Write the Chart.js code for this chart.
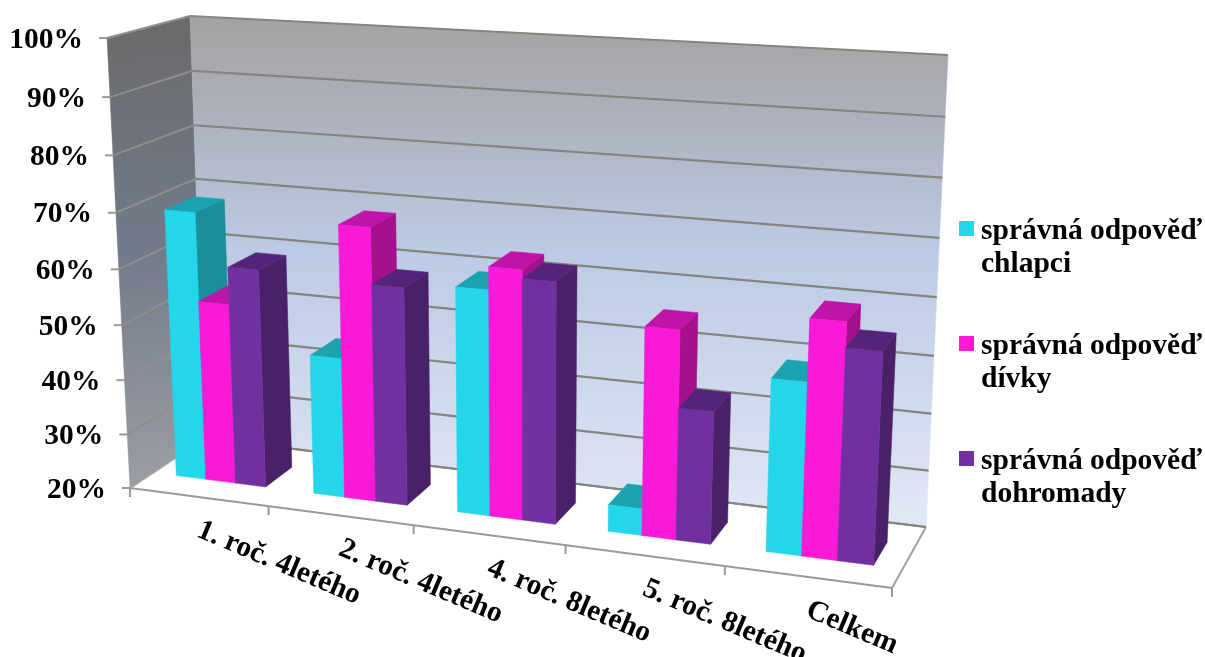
<!DOCTYPE html>
<html lang="cs">

<head>
    <meta charset="UTF-8">
    <title>Správná odpověď</title>
    <script src="https://cdn.jsdelivr.net/npm/chart.js"></script>
    <style>
        body {
            margin: 0;
            background-color: #ffffff;
            overflow: hidden;
        }

        canvas {
            display: block;
        }
    </style>
</head>

<body>
    <canvas id="myChart" width="1205" height="657"></canvas>

    <script>
        const categories = ['1. roč. 4letého', '2. roč. 4letého', '4. roč. 8letého', '5. roč. 8letého', 'Celkem'];
        const chlapci = [69, 45.3, 60, 24.7, 49.7];
        const divky = [53, 69, 64, 56.3, 60.3];
        const dohromady = [59.7, 59, 62.5, 43, 56];

        // screen corners of the 3D box: front plane and back plane
        const front = { bl: [130, 488], br: [892, 588], tl: [107, 38], tr: [916, 85] };
        const back = { bl: [205, 438], br: [926, 527], tl: [190, 16], tr: [948, 55] };
        const barDepth = [0.31, 0.69];
        const serif = '"Liberation Serif", "Times New Roman", serif';

        // unit square -> quad homography
        function homography(q) {
            const [x0, y0] = q.bl, [x1, y1] = q.br, [x2, y2] = q.tr, [x3, y3] = q.tl;
            const dx1 = x1 - x2, dx2 = x3 - x2, sx = x0 - x1 + x2 - x3;
            const dy1 = y1 - y2, dy2 = y3 - y2, sy = y0 - y1 + y2 - y3;
            const den = dx1 * dy2 - dx2 * dy1;
            const g = (sx * dy2 - dx2 * sy) / den;
            const h = (dx1 * sy - sx * dy1) / den;
            return (u, v) => {
                const w = g * u + h * v + 1;
                return [
                    ((x1 - x0 + g * x1) * u + (x3 - x0 + h * x3) * v + x0) / w,
                    ((y1 - y0 + g * y1) * u + (y3 - y0 + h * y3) * v + y0) / w
                ];
            };
        }
        const frontPlane = homography(front);
        const backPlane = homography(back);

        function project(u, v, d) {
            const a = frontPlane(u, v), b = backPlane(u, v);
            return [a[0] + (b[0] - a[0]) * d, a[1] + (b[1] - a[1]) * d];
        }

        function poly(ctx, pts, fill) {
            ctx.beginPath();
            pts.forEach((p, i) => i ? ctx.lineTo(p[0], p[1]) : ctx.moveTo(p[0], p[1]));
            ctx.closePath();
            ctx.fillStyle = fill;
            ctx.fill();
            // same colour hairline so faces do not show seams
            ctx.strokeStyle = fill;
            ctx.lineWidth = 0.5;
            ctx.stroke();
        }

        function line(ctx, a, b, color, width) {
            ctx.beginPath();
            ctx.moveTo(a[0], a[1]);
            ctx.lineTo(b[0], b[1]);
            ctx.strokeStyle = color;
            ctx.lineWidth = width;
            ctx.stroke();
        }

        const box3d = {
            id: 'box3d',
            beforeDatasetsDraw(chart) {
                const { ctx, chartArea: area, scales } = chart;
                const toU = px => (px - area.left) / area.width;
                const toV = py => (area.bottom - py) / area.height;
                const catWidth = scales.x.getPixelForValue(1) - scales.x.getPixelForValue(0);

                ctx.save();

                // walls and floor
                const leftGrad = ctx.createLinearGradient(140, 20, 170, 480);
                leftGrad.addColorStop(0, '#6a6a6a');
                leftGrad.addColorStop(0.5, '#727b8b');
                leftGrad.addColorStop(1, '#9a9da3');
                poly(ctx, [project(0, 0, 0), project(0, 1, 0), project(0, 1, 1), project(0, 0, 1)], leftGrad);

                const backGrad = ctx.createLinearGradient(570, 20, 570, 530);
                backGrad.addColorStop(0, '#a3a3a3');
                backGrad.addColorStop(0.2, '#aeb2bd');
                backGrad.addColorStop(0.45, '#bccae5');
                backGrad.addColorStop(1, '#e2e8f5');
                poly(ctx, [project(0, 0, 1), project(1, 0, 1), project(1, 1, 1), project(0, 1, 1)], backGrad);

                // gridlines and y axis labels
                ctx.font = 'bold 29.5px ' + serif;
                ctx.textAlign = 'right';
                ctx.textBaseline = 'middle';
                scales.y.ticks.forEach((tick, i) => {
                    const v = toV(scales.y.getPixelForTick(i));
                    const p = project(0, v, 0);
                    line(ctx, [p[0] - 8, p[1]], p, '#9a9a9a', 2);
                    line(ctx, p, project(0, v, 1), '#8f8f8a', 2);
                    line(ctx, project(0, v, 1), project(1, v, 1), '#85857f', 2.2);
                    ctx.fillStyle = '#000000';
                    ctx.fillText(tick.label, p[0] - 24, p[1] + 2);
                });

                // floor edges and category ticks
                line(ctx, project(0, 0, 0), project(1, 0, 0), '#9a9a9a', 2.2);
                line(ctx, project(0, 0, 0), project(0, 0, 1), '#a8a8a8', 1.5);
                line(ctx, project(1, 0, 0), project(1, 0, 1), '#a0a0a0', 2);
                line(ctx, project(0, 0, 1), project(1, 0, 1), '#85857f', 2.2);
                for (let i = 0; i <= categories.length; i++) {
                    const u = toU(scales.x.getPixelForValue(0) + (i - 0.5) * catWidth);
                    const p = project(u, 0, 0);
                    line(ctx, p, [p[0], p[1] + 9], '#9a9a9a', 2);
                }

                // bars, left to right so the next bar covers the side of the previous one
                const [d0, d1] = barDepth;
                categories.forEach((cat, j) => {
                    chart.data.datasets.forEach((ds, i) => {
                        const bar = chart.getDatasetMeta(i).data[j];
                        const u0 = toU(bar.x - bar.width / 2), u1 = toU(bar.x + bar.width / 2);
                        const v0 = Math.max(0, toV(bar.base)), v1 = toV(bar.y);
                        poly(ctx, [project(u1, v0, d0), project(u1, v1, d0), project(u1, v1, d1), project(u1, v0, d1)], ds.sideColor);
                        poly(ctx, [project(u0, v1, d0), project(u1, v1, d0), project(u1, v1, d1), project(u0, v1, d1)], ds.topColor);
                        poly(ctx, [project(u0, v0, d0), project(u1, v0, d0), project(u1, v1, d0), project(u0, v1, d0)], ds.backgroundColor);
                    });
                });

                // category labels, slanted along the floor
                ctx.textAlign = 'left';
                ctx.fillStyle = '#000000';
                categories.forEach((cat, j) => {
                    const p = project(toU(scales.x.getPixelForValue(j)), 0, 0);
                    ctx.save();
                    ctx.translate(p[0], p[1] + 32);
                    ctx.rotate(23 * Math.PI / 180);
                    ctx.fillText(cat, 0, 0);
                    ctx.restore();
                });

                // legend
                chart.data.datasets.forEach((ds, i) => {
                    const y = 221 + i * 115;
                    const words = ds.label.split(' ');
                    ctx.fillStyle = ds.backgroundColor;
                    ctx.fillRect(959, y, 15, 15);
                    ctx.fillStyle = '#000000';
                    ctx.fillText(words.slice(0, 2).join(' '), 981, y + 10);
                    ctx.fillText(words[2], 981, y + 43);
                });

                ctx.restore();
                return false; // flat bars are replaced by the 3D ones
            }
        };

        const ctx = document.getElementById('myChart').getContext('2d');
        new Chart(ctx, {
            type: 'bar',
            data: {
                labels: categories,
                datasets: [
                    { label: 'správná odpověď chlapci', data: chlapci, backgroundColor: '#25d6ea', sideColor: '#188f9b', topColor: '#1ba3b0' },
                    { label: 'správná odpověď dívky', data: divky, backgroundColor: '#f81ad8', sideColor: '#a5108d', topColor: '#bf14a8' },
                    { label: 'správná odpověď dohromady', data: dohromady, backgroundColor: '#7030a0', sideColor: '#4a2069', topColor: '#54247a' }
                ]
            },
            options: {
                responsive: false,
                animation: false,
                categoryPercentage: 0.655,
                barPercentage: 1,
                scales: {
                    x: { display: false },
                    y: { display: false, min: 20, max: 100, ticks: { stepSize: 10, callback: value => value + '%' } }
                },
                plugins: {
                    tooltip: { enabled: false },
                    legend: { display: false }
                }
            },
            plugins: [box3d]
        });
    </script>
</body>

</html>
